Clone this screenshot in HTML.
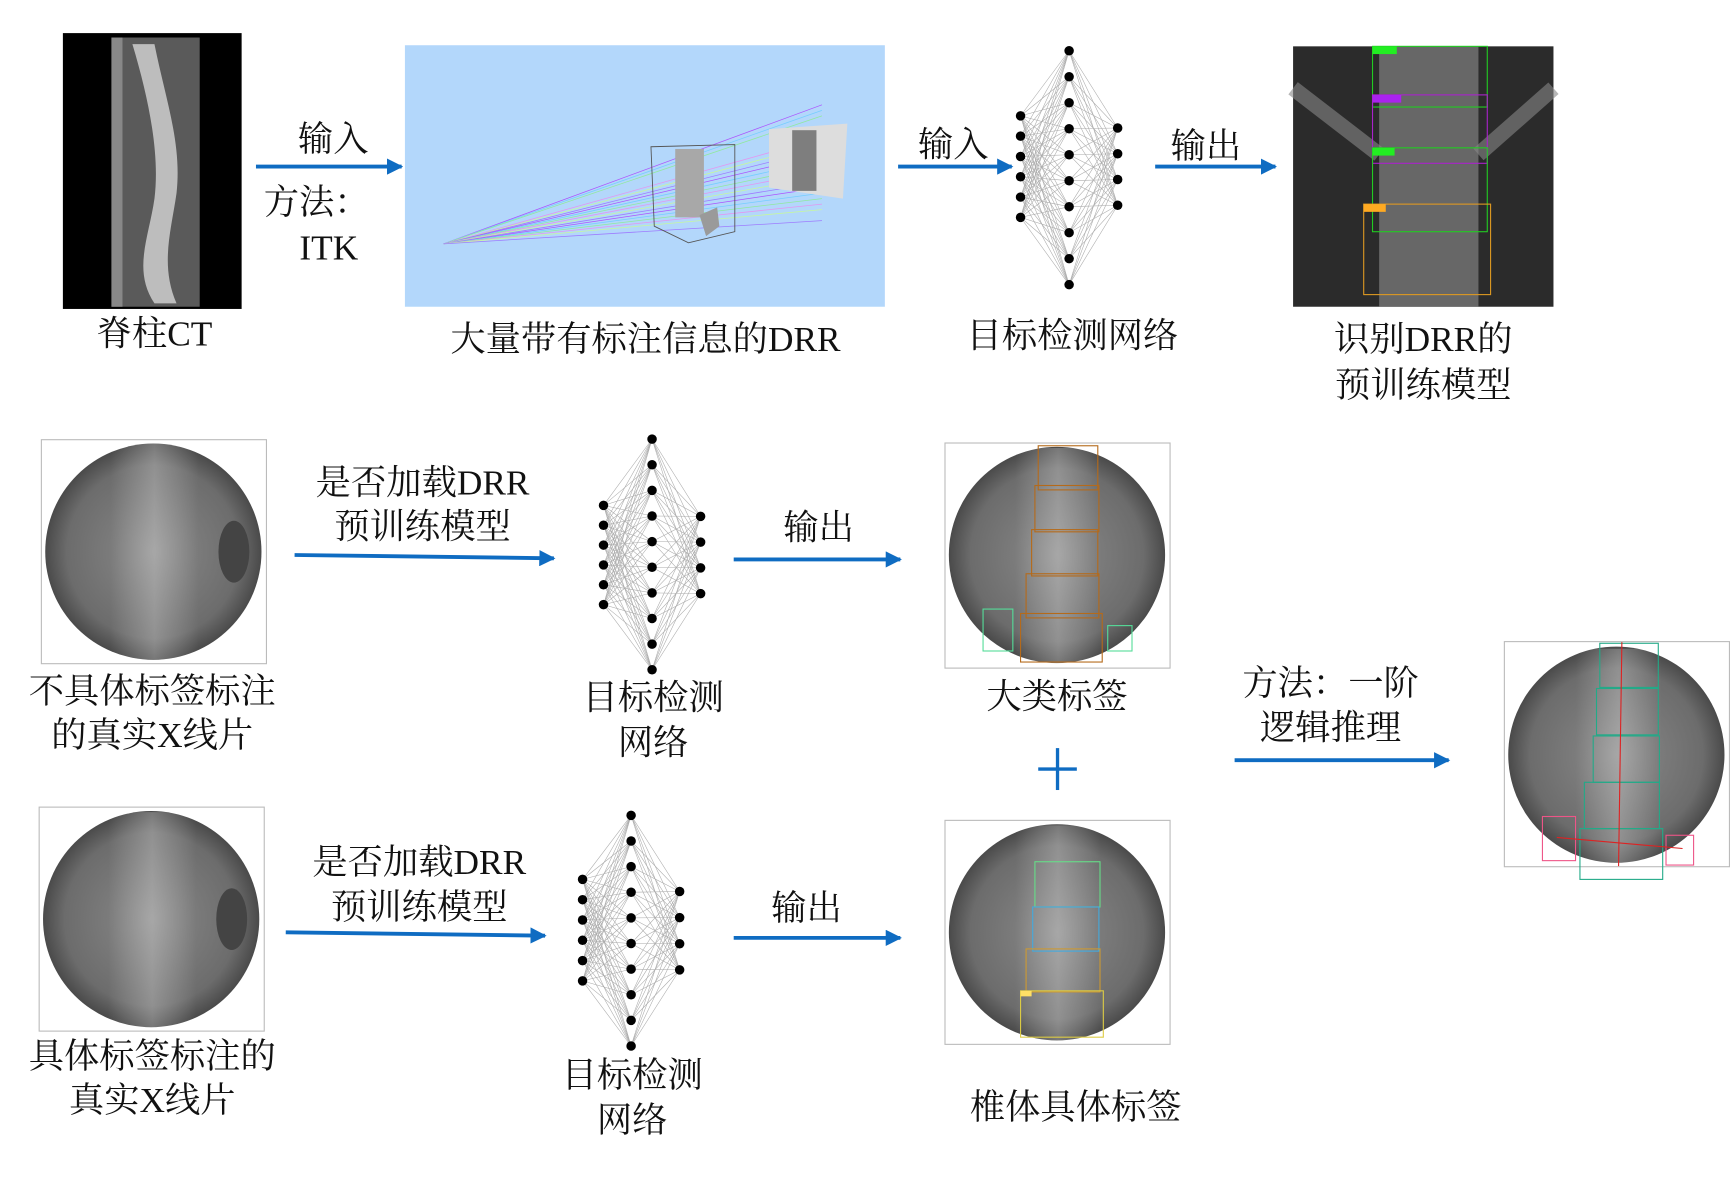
<!DOCTYPE html>
<html><head><meta charset="utf-8"><style>
html,body{margin:0;padding:0;background:#fff;width:1730px;height:1190px;overflow:hidden}
svg text{font-family:"Liberation Serif","Noto Serif CJK SC",serif;fill:#111}
</style></head><body>
<svg id="root" width="1730" height="1190" viewBox="0 0 1568 1078.5" preserveAspectRatio="none" xmlns="http://www.w3.org/2000/svg">
<defs>
<marker id="ah" viewBox="0 0 10 10" refX="9" refY="5" markerWidth="4.2" markerHeight="4.2" orient="auto"><path d="M0,0 L10,5 L0,10 z" fill="#0f6cc2"/></marker>
<radialGradient id="xr" cx="50%" cy="50%" r="50%"><stop offset="0" stop-color="#8a8a8a"/><stop offset="0.8" stop-color="#6c6c6c"/><stop offset="1" stop-color="#4a4a4a"/></radialGradient>
<linearGradient id="sp" x1="0" x2="1"><stop offset="0" stop-color="#fff" stop-opacity="0"/><stop offset="0.5" stop-color="#fff" stop-opacity="0.25"/><stop offset="1" stop-color="#fff" stop-opacity="0"/></linearGradient>
<clipPath id="c1"><circle cx="139" cy="500" r="98"/></clipPath>
</defs>

<!-- CT -->
<g>
<rect x="57" y="30" width="162" height="250" fill="#000"/>
<rect x="101" y="34" width="80" height="244" fill="#5a5a5a"/>
<path d="M120,40 C135,90 145,140 140,180 C135,215 120,245 140,275 L160,275 C145,240 155,210 160,175 C165,130 150,90 140,40 Z" fill="#bdbdbd"/>
<rect x="101" y="34" width="10" height="244" fill="#888"/>
</g>
<text x="140" y="313" font-size="32" text-anchor="middle">脊柱CT</text>

<g><line x1="232" y1="151" x2="364" y2="151" stroke="#0f6cc2" stroke-width="3.5" marker-end="url(#ah)"/></g>
<text x="302" y="137" font-size="32" text-anchor="middle">输入</text>
<text x="287" y="194" font-size="32" text-anchor="middle">方法：</text>
<text x="298" y="235" font-size="32" text-anchor="middle">ITK</text>

<!-- DRR panel -->
<g>
<rect x="367" y="41" width="435" height="237" fill="#b3d7fb"/>
<g id="rays" stroke-width="0.7" opacity="0.8"></g>
<path d="M590,133 L666,131 L666,210 L624,220 L593,205 Z" fill="none" stroke="#555" stroke-width="0.8"/>
<rect x="612" y="135" width="26" height="62" fill="#a8a8a8"/>
<path d="M634,195 L650,188 L652,205 L640,214 Z" fill="#9a9a9a"/>
<path d="M697,117 L768,112 L764,180 L697,170 Z" fill="#ddd"/>
<rect x="718" y="118" width="22" height="55" fill="#555" opacity="0.7"/>
</g>
<text x="585" y="318" font-size="32" text-anchor="middle">大量带有标注信息的DRR</text>

<g><line x1="814" y1="151" x2="917" y2="151" stroke="#0f6cc2" stroke-width="3.5" marker-end="url(#ah)"/></g>
<text x="864" y="142" font-size="32" text-anchor="middle">输入</text>

<g id="net1"></g>
<text x="972" y="315" font-size="32" text-anchor="middle">目标检测网络</text>

<g><line x1="1047" y1="151" x2="1156" y2="151" stroke="#0f6cc2" stroke-width="3.5" marker-end="url(#ah)"/></g>
<text x="1093" y="143" font-size="32" text-anchor="middle">输出</text>

<g>
<rect x="1172" y="42" width="236" height="236" fill="#2b2b2b"/>
<rect x="1250" y="42" width="90" height="236" fill="#777" opacity="0.8"/>
<path d="M1172,80 L1250,140 M1408,80 L1340,140" stroke="#888" stroke-width="14" opacity="0.6"/>
<rect x="1244" y="42" width="104" height="55" fill="none" stroke="#2c2" stroke-width="1"/>
<rect x="1244" y="86" width="104" height="62" fill="none" stroke="#a2c" stroke-width="1"/>
<rect x="1244" y="134" width="104" height="76" fill="none" stroke="#2c2" stroke-width="1"/>
<rect x="1236" y="185" width="115" height="82" fill="none" stroke="#d92" stroke-width="1"/>
<rect x="1244" y="42" width="22" height="7" fill="#2e2"/><rect x="1244" y="86" width="26" height="7" fill="#a2e"/>
<rect x="1244" y="134" width="20" height="7" fill="#2e2"/><rect x="1236" y="185" width="20" height="7" fill="#fa2"/>
</g>
<text x="1290" y="318" font-size="32" text-anchor="middle">识别DRR的</text>
<text x="1290" y="360" font-size="32" text-anchor="middle">预训练模型</text>

<!-- Row 2 -->
<g>
<rect x="37.5" y="398.5" width="204" height="203" fill="#fff" stroke="#bbb"/>
<circle cx="139" cy="500" r="98" fill="url(#xr)"/>
<rect x="100" y="402" width="80" height="196" fill="url(#sp)" clip-path="url(#c1)"/>
<ellipse cx="212" cy="500" rx="14" ry="28" fill="#444" clip-path="url(#c1)"/>
</g>
<text x="138" y="637" font-size="32" text-anchor="middle">不具体标签标注</text>
<text x="138" y="677" font-size="32" text-anchor="middle">的真实X线片</text>

<text x="383" y="448" font-size="32" text-anchor="middle">是否加载DRR</text>
<text x="383" y="488" font-size="32" text-anchor="middle">预训练模型</text>
<g><line x1="267" y1="503" x2="502" y2="506" stroke="#0f6cc2" stroke-width="3.5" marker-end="url(#ah)"/></g>

<g id="net2"></g>
<text x="592" y="643" font-size="32" text-anchor="middle">目标检测</text>
<text x="592" y="684" font-size="32" text-anchor="middle">网络</text>

<g><line x1="665" y1="507" x2="816" y2="507" stroke="#0f6cc2" stroke-width="3.5" marker-end="url(#ah)"/></g>
<text x="742" y="489" font-size="32" text-anchor="middle">输出</text>

<g>
<rect x="856.5" y="401.5" width="204" height="204" fill="#fff" stroke="#bbb"/>
<circle cx="958" cy="503" r="98" fill="url(#xr)"/>
<rect x="920" y="406" width="78" height="196" fill="url(#sp)"/>
<rect x="941" y="404" width="54" height="40" fill="none" stroke="#b56a1a"/>
<rect x="938" y="440" width="58" height="42" fill="none" stroke="#b56a1a"/>
<rect x="935" y="480" width="60" height="42" fill="none" stroke="#b56a1a"/>
<rect x="930" y="520" width="66" height="40" fill="none" stroke="#b56a1a"/>
<rect x="925" y="556" width="74" height="44" fill="none" stroke="#b56a1a"/>
<rect x="891" y="552" width="27" height="38" fill="none" stroke="#5d9"/>
<rect x="1004" y="567" width="22" height="23" fill="none" stroke="#5d9"/>
</g>
<text x="958" y="642" font-size="32" text-anchor="middle">大类标签</text>
<g><line x1="941" y1="697" x2="976" y2="697" stroke="#0f6cc2" stroke-width="3"/><line x1="958.5" y1="678" x2="958.5" y2="716" stroke="#0f6cc2" stroke-width="3"/></g>

<text x="1206" y="630" font-size="32" text-anchor="middle">方法：一阶</text>
<text x="1206" y="670" font-size="32" text-anchor="middle">逻辑推理</text>
<g><line x1="1119" y1="689" x2="1313" y2="689" stroke="#0f6cc2" stroke-width="3.5" marker-end="url(#ah)"/></g>

<g>
<rect x="1363.5" y="581.5" width="204" height="204" fill="#fff" stroke="#bbb"/>
<circle cx="1465" cy="684" r="98" fill="url(#xr)"/>
<rect x="1428" y="588" width="78" height="196" fill="url(#sp)"/>
<rect x="1450" y="583" width="53" height="40" fill="none" stroke="#2a8"/>
<rect x="1447" y="624" width="56" height="42" fill="none" stroke="#2a8"/>
<rect x="1444" y="667" width="60" height="42" fill="none" stroke="#2a8"/>
<rect x="1436" y="709" width="68" height="42" fill="none" stroke="#2a8"/>
<rect x="1432" y="751" width="75" height="46" fill="none" stroke="#2a8"/>
<rect x="1398" y="740" width="30" height="40" fill="none" stroke="#e58"/>
<rect x="1510" y="757" width="25" height="27" fill="none" stroke="#e58"/>
<line x1="1470" y1="582" x2="1467" y2="785" stroke="#d22" stroke-width="1"/>
<line x1="1411" y1="759" x2="1525" y2="769" stroke="#d22" stroke-width="1"/>
</g>

<!-- Row 3 -->
<g>
<rect x="35.5" y="731.5" width="204" height="203" fill="#fff" stroke="#bbb"/>
<circle cx="137" cy="833" r="98" fill="url(#xr)"/>
<rect x="98" y="736" width="80" height="195" fill="url(#sp)"/>
<ellipse cx="210" cy="833" rx="14" ry="28" fill="#444"/>
</g>
<text x="138" y="968" font-size="32" text-anchor="middle">具体标签标注的</text>
<text x="138" y="1008" font-size="32" text-anchor="middle">真实X线片</text>

<text x="380" y="792" font-size="32" text-anchor="middle">是否加载DRR</text>
<text x="380" y="833" font-size="32" text-anchor="middle">预训练模型</text>
<g><line x1="259" y1="845" x2="494" y2="848" stroke="#0f6cc2" stroke-width="3.5" marker-end="url(#ah)"/></g>

<g id="net3"></g>
<text x="573" y="985" font-size="32" text-anchor="middle">目标检测</text>
<text x="573" y="1026" font-size="32" text-anchor="middle">网络</text>

<g><line x1="665" y1="850" x2="816" y2="850" stroke="#0f6cc2" stroke-width="3.5" marker-end="url(#ah)"/></g>
<text x="731" y="834" font-size="32" text-anchor="middle">输出</text>

<g>
<rect x="856.5" y="743.5" width="204" height="203" fill="#fff" stroke="#bbb"/>
<circle cx="958" cy="845" r="98" fill="url(#xr)"/>
<rect x="920" y="748" width="78" height="195" fill="url(#sp)"/>
<rect x="938" y="781" width="59" height="41" fill="none" stroke="#6d8"/>
<rect x="936" y="822" width="60" height="40" fill="none" stroke="#4ad"/>
<rect x="930" y="860" width="67" height="39" fill="none" stroke="#c93"/>
<rect x="925" y="898" width="75" height="42" fill="none" stroke="#dc4"/>
<rect x="925" y="898" width="10" height="5" fill="#ffe066"/>
</g>
<text x="975" y="1014" font-size="32" text-anchor="middle">椎体具体标签</text>
</svg>
<script>
// network layer definitions: node counts per layer
const net1Counts = [6, 10, 4];
const net2Counts = [6, 10, 4];
const net3Counts = [6, 10, 4];
const NS = "http://www.w3.org/2000/svg";
function drawNet(id, counts, xs, ranges) {
  const g = document.getElementById(id);
  const layers = counts.map((n, i) => {
    const [a, b] = ranges[i];
    const pts = [];
    for (let k = 0; k < n; k++) pts.push([xs[i], n === 1 ? a : a + (b - a) * k / (n - 1)]);
    return pts;
  });
  for (let i = 0; i < layers.length - 1; i++) {
    layers[i].forEach(p => layers[i + 1].forEach(q => {
      const l = document.createElementNS(NS, "line");
      l.setAttribute("x1", p[0]); l.setAttribute("y1", p[1]);
      l.setAttribute("x2", q[0]); l.setAttribute("y2", q[1]);
      l.setAttribute("stroke", "#aaa"); l.setAttribute("stroke-width", "0.5");
      
      
      g.appendChild(l);
    }));
  }
  layers.forEach(L => L.forEach(p => {
    const c = document.createElementNS(NS, "circle");
    c.setAttribute("cx", p[0]); c.setAttribute("cy", p[1]); c.setAttribute("r", "4.3");
    c.setAttribute("fill", "#000");
    
    
    g.appendChild(c);
  }));
}
drawNet("net1", net1Counts, [925, 969, 1013], [[105, 197], [46, 258], [116, 186]]);
drawNet("net2", net2Counts, [547, 591, 635], [[458, 548], [398, 607], [468, 538]]);
drawNet("net3", net3Counts, [528, 572, 616], [[797, 889], [739, 948], [808, 879]]);
// rays in DRR panel
const rayColors = ["#a3f", "#6cf", "#8e8", "#e8e", "#cf8", "#96f"];
const rayEnds = [110, 115, 120, 125, 130, 135, 140, 145, 150, 155, 160, 165, 170, 175, 180, 185, 190, 200];
const rg = document.getElementById("rays");
rayEnds.forEach((y, i) => {
  const l = document.createElementNS(NS, "line");
  l.setAttribute("x1", 402); l.setAttribute("y1", 221);
  l.setAttribute("x2", 745); l.setAttribute("y2", y - (i < 3 ? 15 : 0));
  l.setAttribute("stroke", rayColors[i % rayColors.length]);
  
  
  rg.appendChild(l);
});
</script>
</body></html>
